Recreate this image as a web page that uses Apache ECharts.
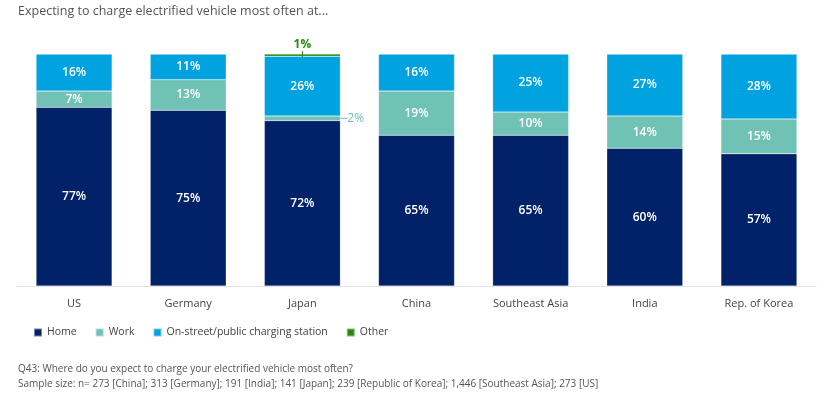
<!DOCTYPE html>
<html><head><meta charset="utf-8">
<script src="https://cdn.jsdelivr.net/npm/echarts@6/dist/echarts.min.js"></script>
<style>html,body{margin:0;padding:0;background:#fff}#c{width:831px;height:405px}</style>
</head><body><div id="c"></div>
<script>
const categories = ['US','Germany','Japan','China','Southeast Asia','India','Rep. of Korea'];
const home = [77,75,72,65,65,60,57];
const work = [7,13,2,19,10,14,15];
const onStreet = [16,11,26,16,25,27,28];
const other = [0,0,1,0,0,0,0];
const seriesNames = ['Home','Work','On-street/public charging station','Other'];
const colors = ['#012169','#6fc2b4','#00a3e0','#26890d'];
const FONT = '"Open Sans", "Noto Sans", sans-serif';

// each bar is drawn as share of its own total (100% stacked)
const totals = categories.map((_, i) => home[i] + work[i] + onStreet[i] + other[i]);

function seg(name, data, color) {
  return {
    name, type: 'bar', stack: 'a', barWidth: 76, color,
    itemStyle: { borderColor: 'rgba(255,255,255,0.45)', borderWidth: 0.5 },
    data: data.map((v, i) => {
      const d = { value: v / totals[i] * 100, raw: v };
      if (v === 0) { d.label = { show: false }; }
      if (name === 'Work' && v < 5) {
        d.label = { show: true, position: 'right', distance: 0, color: color, fontWeight: 'normal',
          formatter: '{ln|}' + v + '%',
          rich: { ln: { width: 7, height: 1, backgroundColor: color } } };
      }
      if (name === 'Other' && v > 0) {
        d.label = { show: true, position: 'top', distance: -3, color: color,
          formatter: '{a|' + v + '%}\n{t|}',
          rich: { a: { fontSize: 12, fontWeight: 'bold', color: color, lineHeight: 13, fontFamily: FONT },
                  t: { width: 1, height: 6, backgroundColor: color, lineHeight: 6 } } };
      }
      return d;
    }),
    label: { show: true, position: 'inside', color: '#fff', fontSize: 12, fontWeight: 600, fontFamily: FONT,
      formatter: p => p.data.raw + '%' },
    emphasis: { disabled: true }
  };
}

const chart = echarts.init(document.getElementById('c'));
chart.setOption({
  animation: false,
  title: { text: 'Expecting to charge electrified vehicle most often at...', left: 13, top: 0,
    textStyle: { fontSize: 12.5, fontWeight: 'normal', color: '#555', fontFamily: FONT } },
  legend: { data: seriesNames, left: 28, top: 322, itemWidth: 8, itemHeight: 8, itemGap: 18,
    icon: 'rect', textStyle: { fontSize: 10.5, color: '#444', fontFamily: FONT } },
  grid: { left: 17, right: 15, top: 54, bottom: 119 },
  xAxis: { type: 'category', data: categories,
    axisLine: { lineStyle: { color: '#e3e3e3' } }, axisTick: { show: false },
    axisLabel: { color: '#444', fontSize: 11, fontFamily: FONT, margin: 12 } },
  yAxis: { type: 'value', min: 0, max: 100, show: false, splitLine: { show: false } },
  series: [
    seg(seriesNames[0], home, colors[0]),
    seg(seriesNames[1], work, colors[1]),
    seg(seriesNames[2], onStreet, colors[2]),
    seg(seriesNames[3], other, colors[3])
  ],
  graphic: [
    { type: 'text', left: 18, top: 364, style: { text: 'Q43: Where do you expect to charge your electrified vehicle most often?', fontSize: 10, fill: '#555', fontFamily: FONT } },
    { type: 'text', left: 18, top: 379, style: { text: 'Sample size: n= 273 [China]; 313 [Germany]; 191 [India]; 141 [Japan]; 239 [Republic of Korea]; 1,446 [Southeast Asia]; 273 [US]', fontSize: 10, fill: '#555', fontFamily: FONT } }
  ]
});
</script></body></html>
